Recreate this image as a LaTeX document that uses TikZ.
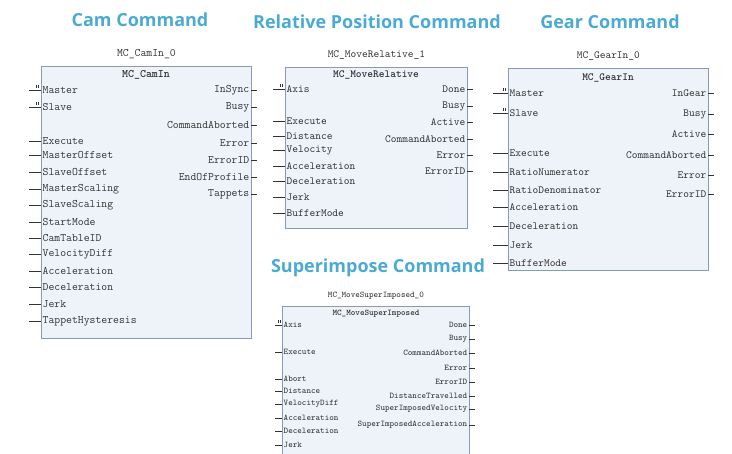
\documentclass[tikz,border=0pt]{standalone}
\usepackage{fontspec}
\setsansfont{Open Sans}
\definecolor{title color}{RGB}{74,170,212}
\definecolor{block fill}{RGB}{238,243,250}
\definecolor{block line}{RGB}{135,155,180}
\definecolor{pin color}{RGB}{50,50,50}

\begin{document}
\begin{tikzpicture}[x=1pt, y=-1pt, thin, pin color,
    font=\ttfamily\fontsize{10.9}{12}\selectfont,
    heading/.style={font=\sffamily\bfseries\fontsize{18}{21}\selectfont, text=title color},
    block/.style={draw=block line, fill=block fill, line width=.8pt, anchor=north west, inner sep=0pt},
    type name/.style={font=\ttfamily\bfseries\fontsize{10.9}{12}\selectfont},
    in pin/.style={anchor=west, inner sep=1.5pt},
    out pin/.style={anchor=east, inner sep=1.5pt}]
    \useasboundingbox (0,0) rectangle (732,454);
    \clip (0,0) rectangle (732,454);

    % headings
    \node (cam head) at (140,20) [heading] {Cam Command};
    \node (rel head) at (377,22) [heading] {Relative Position Command};
    \node (gear head) at (610,22) [heading] {Gear Command};
    \node (sup head) at (378,268) [heading] {Superimpose Command};

    % MC_CamIn
    \begin{scope}[font=\ttfamily\fontsize{11.4}{12}\selectfont]
        \node (cam) at (41,66) [block, minimum width=210, minimum height=272] {};
        \node (cam inst) at (cam.north) [above=4pt] {MC\_CamIn\_0};
        \node (cam type) at (146,75) [type name, font=\ttfamily\bfseries\fontsize{11.4}{12}\selectfont] {MC\_CamIn};
        \foreach \y/\n in {90/Master, 107/Slave} {
            \node (cam in \n) at (41,\y) [in pin] {\n};
            \draw (cam in \n.west) -- +(-12,0);
            \draw (cam in \n.west) ++(-5,-2) -- +(0,-3) ++(2,0) -- +(0,-3);
        }
        \foreach \y/\n in {141/Execute, 155/MasterOffset, 172/SlaveOffset, 189/MasterScaling,
                205/SlaveScaling, 222/StartMode, 238/CamTableID, 254/VelocityDiff,
                271/Acceleration, 287/Deceleration, 304/Jerk, 321/TappetHysteresis} {
            \node (cam in \n) at (41,\y) [in pin] {\n};
            \draw (cam in \n.west) -- +(-12,0);
        }
        \foreach \y/\n in {90/InSync, 107/Busy, 125/CommandAborted, 143/Error,
                160/ErrorID, 177/EndOfProfile, 194/Tappets} {
            \node (cam out \n) at (251,\y) [out pin] {\n};
            \draw (cam out \n.east) -- +(6,0);
        }
    \end{scope}

    % MC_MoveRelative
    \node (rel) at (285,67) [block, minimum width=182, minimum height=161] {};
    \node (rel inst) at (rel.north) [above=4pt] {MC\_MoveRelative\_1};
    \node (rel type) at (376,75) [type name] {MC\_MoveRelative};
    \foreach \y/\n in {89/Axis} {
        \node (rel in \n) at (285,\y) [in pin] {\n};
        \draw (rel in \n.west) -- +(-12,0);
        \draw (rel in \n.west) ++(-5,-2) -- +(0,-3) ++(2,0) -- +(0,-3);
    }
    \foreach \y/\n in {121/Execute, 136/Distance, 150/Velocity, 166/Acceleration,
            181/Deceleration, 197/Jerk, 213/BufferMode} {
        \node (rel in \n) at (285,\y) [in pin] {\n};
        \draw (rel in \n.west) -- +(-12,0);
    }
    \foreach \y/\n in {89/Done, 106/Busy, 122/Active, 139/CommandAborted, 155/Error, 171/ErrorID} {
        \node (rel out \n) at (467,\y) [out pin] {\n};
        \draw (rel out \n.east) -- +(6,0);
    }

    % MC_GearIn
    \node (gear) at (508,68) [block, minimum width=200, minimum height=202] {};
    \node (gear inst) at (gear.north) [above=4pt] {MC\_GearIn\_0};
    \node (gear type) at (608,78) [type name] {MC\_GearIn};
    \foreach \y/\n in {93/Master, 113/Slave} {
        \node (gear in \n) at (508,\y) [in pin] {\n};
        \draw (gear in \n.west) -- +(-15,0);
        \draw (gear in \n.west) ++(-5,-2) -- +(0,-3) ++(2,0) -- +(0,-3);
    }
    \foreach \y/\n in {153/Execute, 172/RatioNumerator, 190/RatioDenominator, 207/Acceleration,
            226/Deceleration, 245/Jerk, 263/BufferMode} {
        \node (gear in \n) at (508,\y) [in pin] {\n};
        \draw (gear in \n.west) -- +(-15,0);
    }
    \foreach \y/\n in {93/InGear, 114/Busy, 134/Active, 155/CommandAborted, 175/Error, 194/ErrorID} {
        \node (gear out \n) at (708,\y) [out pin] {\n};
        \draw (gear out \n.east) -- +(6,0);
    }

    % MC_MoveSuperImposed
    \begin{scope}[font=\ttfamily\fontsize{8.7}{9}\selectfont]
        \node (sup) at (282,306) [block, minimum width=187, minimum height=170] {};
        \node (sup inst) at (sup.north) [above=3pt] {MC\_MoveSuperImposed\_0};
        \node (sup type) at (376,314) [type name, font=\ttfamily\bfseries\fontsize{8.7}{9}\selectfont] {MC\_MoveSuperImposed};
        \foreach \y/\n in {325/Axis} {
            \node (sup in \n) at (282,\y) [in pin] {\n};
            \draw (sup in \n.west) -- +(-7,0);
            \draw (sup in \n.west) ++(-4,-2) -- +(0,-3) ++(2,0) -- +(0,-3);
        }
        \foreach \y/\n in {352/Execute, 379/Abort, 391/Distance, 404/VelocityDiff,
                418/Acceleration, 431/Deceleration, 445/Jerk} {
            \node (sup in \n) at (282,\y) [in pin] {\n};
            \draw (sup in \n.west) -- +(-7,0);
        }
        \foreach \y/\n in {325/Done, 339/Busy, 353/CommandAborted, 368/Error, 382/ErrorID,
                396/DistanceTravelled, 409/SuperImposedVelocity, 425/SuperImposedAcceleration} {
            \node (sup out \n) at (469,\y) [out pin] {\n};
            \draw (sup out \n.east) -- +(6,0);
        }
    \end{scope}
\end{tikzpicture}
\end{document}
